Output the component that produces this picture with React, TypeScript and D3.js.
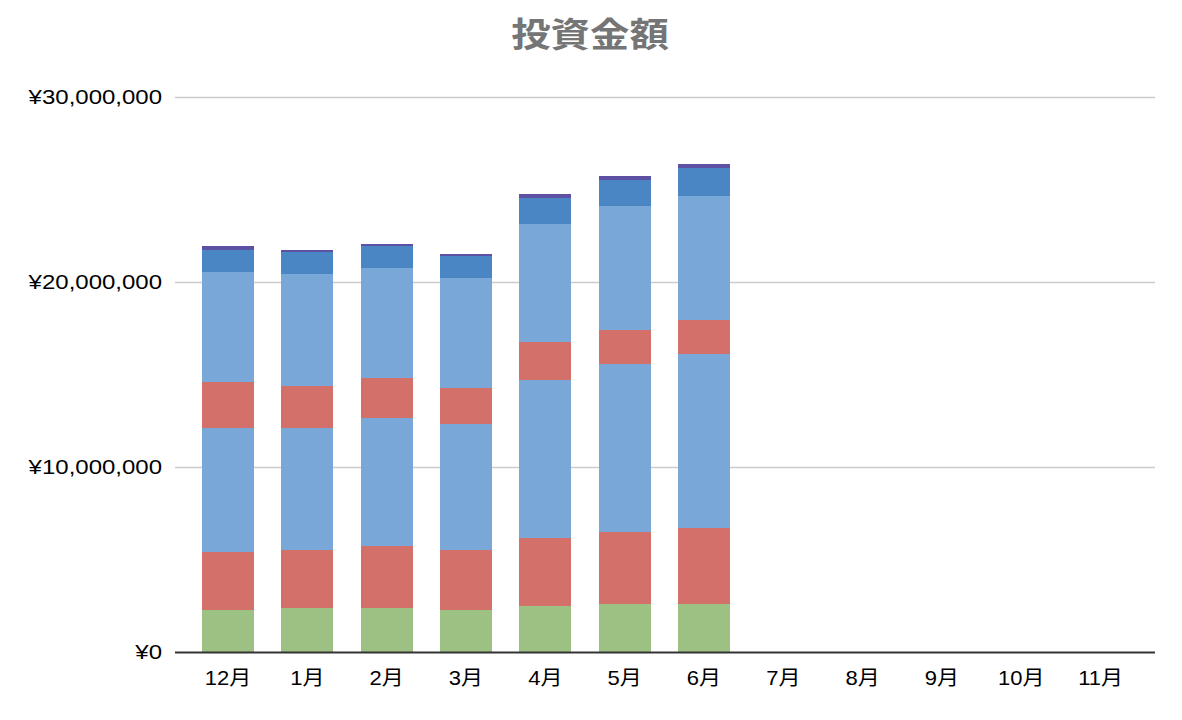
import React, { useRef, useEffect } from 'react';
import { select, scaleBand, scaleLinear, stack } from 'd3';

const months = ['12月', '1月', '2月', '3月', '4月', '5月', '6月', '7月', '8月', '9月', '10月', '11月'];
const yTicks = [0, 10000000, 20000000, 30000000];

// amounts per month (yen), months 7月〜11月 have no data yet
const series1 = [2300000, 2410000, 2410000, 2300000, 2510000, 2620000, 2620000];
const series2 = [3130000, 3130000, 3350000, 3240000, 3680000, 3890000, 4110000];
const series3 = [6680000, 6570000, 6920000, 6810000, 8540000, 9080000, 9410000];
const series4 = [2510000, 2310000, 2170000, 1960000, 2050000, 1840000, 1830000];
const series5 = [5950000, 6040000, 5910000, 5930000, 6380000, 6710000, 6710000];
const series6 = [1190000, 1190000, 1190000, 1190000, 1410000, 1400000, 1510000];
const series7 = [230000, 110000, 100000, 110000, 210000, 220000, 220000];

const seriesKeys = ['s1', 's2', 's3', 's4', 's5', 's6', 's7'];
const colors = ['#9dc183', '#d4706a', '#79a8d8', '#d4706a', '#79a8d8', '#4a86c4', '#5d51a3'];

const FONT = "'Liberation Sans', Arial, 'Noto Sans CJK JP', sans-serif";

export default function App() {
    const svgRef = useRef<SVGSVGElement | null>(null);

    useEffect(() => {
        const svg = select(svgRef.current);
        svg.selectAll('*').remove();

        const all = [series1, series2, series3, series4, series5, series6, series7];
        const rows = months.map((m, i) => {
            const row: any = { month: m };
            seriesKeys.forEach((k, j) => (row[k] = all[j][i] ?? 0));
            return row;
        });

        const x = scaleBand()
            .domain(months)
            .range([188.3, 1140.3])
            .paddingInner(0.345)
            .paddingOuter(0.1725);
        const y = scaleLinear().domain([0, 30000000]).range([652.5, 97.3]);

        // title
        svg.append('text')
            .attr('transform', 'translate(590,47) scale(1.16,1)')
            .attr('text-anchor', 'middle')
            .attr('font-family', "'Noto Sans CJK JP', sans-serif")
            .attr('font-weight', 'bold')
            .attr('font-size', 34)
            .attr('fill', '#757575')
            .text('投資金額');

        // gridlines
        svg.selectAll('.grid')
            .data(yTicks.filter((t) => t > 0))
            .join('line')
            .attr('class', 'grid')
            .attr('x1', 175)
            .attr('x2', 1155)
            .attr('y1', (d) => Math.round(y(d)) + 0.5)
            .attr('y2', (d) => Math.round(y(d)) + 0.5)
            .attr('stroke', '#cccccc')
            .attr('stroke-width', 1.5);

        // y labels
        const fmt = (v: number) => '¥' + v.toLocaleString('en-US');
        svg.selectAll('.ylab')
            .data(yTicks)
            .join('text')
            .attr('class', 'ylab')
            .attr('transform', (d) => `translate(162,${y(d) + 6.5}) scale(1.2,1)`)
            .attr('text-anchor', 'end')
            .attr('font-family', FONT)
            .attr('font-size', 20)
            .attr('fill', '#000')
            .text((d) => fmt(d));

        // stacked bars
        const stacked = stack<any>().keys(seriesKeys)(rows);
        const layers = svg.selectAll('.layer')
            .data(stacked)
            .join('g')
            .attr('class', 'layer')
            .attr('fill', (_d, i) => colors[i])
            .attr('shape-rendering', 'crispEdges');
        layers.selectAll('rect')
            .data((d) => d.filter((p) => p[1] - p[0] > 0))
            .join('rect')
            .attr('x', (p: any) => x(p.data.month) as number)
            .attr('width', x.bandwidth())
            .attr('y', (p) => y(p[1]))
            .attr('height', (p) => y(p[0]) - y(p[1]));

        // baseline axis
        svg.append('line')
            .attr('x1', 175)
            .attr('x2', 1155)
            .attr('y1', 652.5)
            .attr('y2', 652.5)
            .attr('stroke', '#333333')
            .attr('stroke-width', 2);

        // x labels
        svg.selectAll('.xlab')
            .data(months)
            .join('text')
            .attr('class', 'xlab')
            .attr('transform', (d) => `translate(${(x(d) as number) + x.bandwidth() / 2},684.5) scale(1.1,1)`)
            .attr('text-anchor', 'middle')
            .attr('font-family', FONT)
            .attr('font-size', 20)
            .attr('fill', '#000')
            .text((d) => d);
    }, []);

    return (
        <svg
            ref={svgRef}
            width={1182}
            height={720}
            style={{ position: 'absolute', left: 0, top: 0, background: '#fff' }}
        ></svg>
    );
}
